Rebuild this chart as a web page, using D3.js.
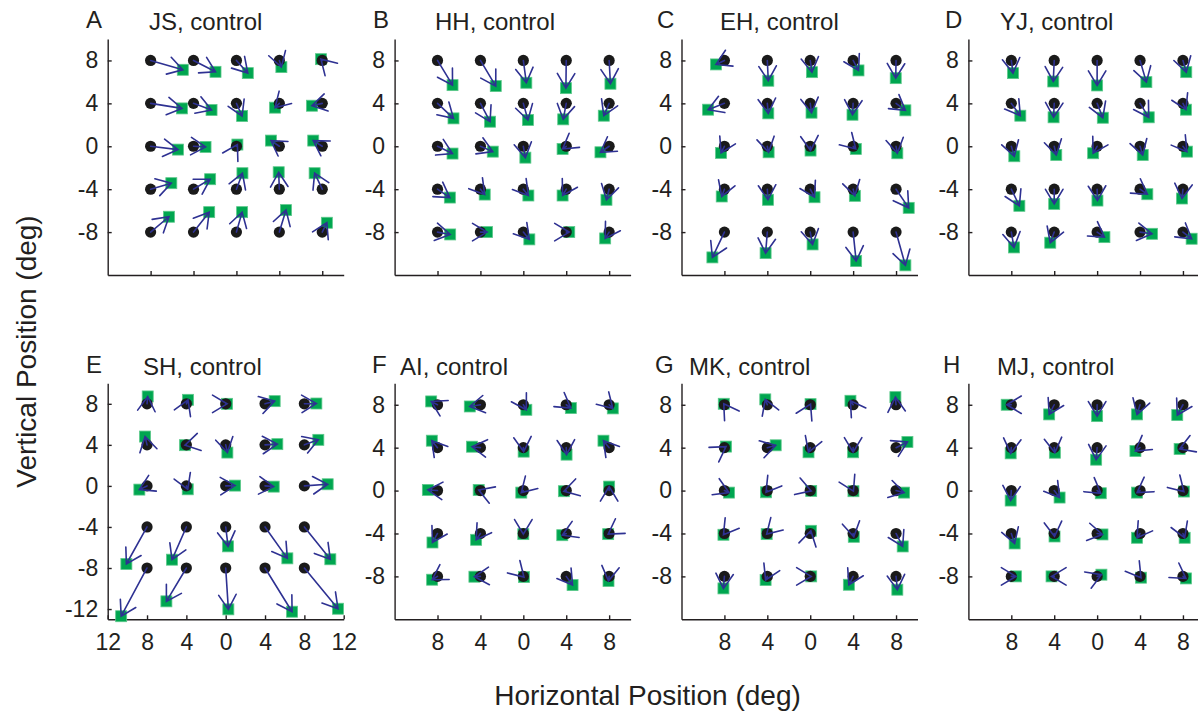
<!DOCTYPE html>
<html><head><meta charset="utf-8">
<script src="https://cdn.jsdelivr.net/npm/d3@7"></script>
<style>
html,body{margin:0;padding:0;background:#fff;}
text{font-family:"Liberation Sans",Arial,sans-serif;fill:#231f20;}
</style></head>
<body>
<svg id="chart" width="1198" height="717"></svg>
<script>
// ---- data ----
const panelLetters = ["A","B","C","D","E","F","G","H"];
const subjects = ["JS, control","HH, control","EH, control","YJ, control","SH, control","AI, control","MK, control","MJ, control"];
const gridX = [-8,-4,0,4,8];
const gridY = [8,4,0,-4,-8];
const ticksStd = [-8,-4,0,4,8];
const ticksWideX = [-12,-8,-4,0,4,8,12];
const ticksWideY = [-12,-8,-4,0,4,8];
// responses, row by row (y = 8,4,0,-4,-8), columns x = -8..8
const respA = [[-5.0,7.13],[-1.95,6.94],[1.06,6.82],[4.19,7.38],[7.88,8.12],
 [-5.08,3.53],[-2.32,3.38],[0.53,2.82],[3.6,3.6],[7.04,3.78],
 [-5.45,-0.31],[-2.88,-0.06],[0.09,0.16],[3.22,0.53],[7.16,0.53],
 [-6.07,-3.44],[-2.45,-3.07],[0.56,-2.51],[3.94,-2.42],[7.29,-2.51],
 [-6.29,-6.57],[-2.54,-6.14],[0.53,-6.14],[4.62,-5.95],[8.43,-7.13]];
const respB = [[-6.6,5.7],[-2.57,5.61],[0.28,5.92],[3.97,5.42],[8.12,5.83],
 [-6.51,2.6],[-3.1,2.29],[0.43,2.45],[3.72,2.51],[7.5,2.85],
 [-6.6,-0.68],[-2.85,-0.5],[0.19,-1.06],[3.66,-0.25],[7.19,-0.56],
 [-6.85,-4.78],[-3.6,-4.5],[0.47,-4.59],[3.66,-4.59],[7.75,-4.99],
 [-6.82,-8.22],[-3.38,-8.0],[0.56,-8.68],[4.28,-8.0],[7.63,-8.59]];
const respC = [[-8.78,7.63],[-3.91,6.11],[0.16,6.91],[4.5,7.07],[7.97,6.35],
 [-9.52,3.41],[-3.91,3.07],[0.12,3.13],[3.94,2.94],[8.87,3.35],
 [-8.31,-0.62],[-3.88,-0.56],[0.03,-0.4],[4.25,-0.25],[8.12,-0.65],
 [-8.25,-4.68],[-3.94,-4.99],[0.4,-4.75],[4.16,-4.62],[9.18,-5.74],
 [-9.12,-10.36],[-4.16,-9.96],[0.22,-9.15],[4.28,-10.7],[8.87,-11.1]];
const respD = [[-7.84,6.82],[-4.09,6.04],[0.0,5.67],[4.59,5.98],[8.31,6.91],
 [-7.16,2.85],[-4.06,2.7],[0.53,2.66],[4.81,2.7],[8.28,3.41],
 [-7.72,-0.93],[-3.81,-0.81],[-0.37,-0.65],[4.25,-0.81],[8.37,-0.5],
 [-7.25,-5.55],[-4.0,-5.37],[0.03,-5.06],[4.68,-4.47],[7.91,-4.87],
 [-7.75,-9.43],[-4.37,-8.99],[0.68,-8.47],[5.12,-8.16],[8.81,-8.62]];
const respE = [[-7.93,8.72],[-3.83,8.39],[0.14,8.0],[4.98,8.26],[9.22,8.03],
 [-8.2,4.81],[-4.14,3.97],[0.17,3.25],[5.25,4.07],[9.42,4.49],
 [-8.78,-0.36],[-3.86,-0.33],[0.95,0.03],[4.88,-0.07],[10.37,0.16],
 [-10.1,-7.61],[-5.46,-7.19],[0.24,-5.89],[6.27,-7.06],[10.64,-7.15],
 [-10.63,-12.7],[-6.03,-11.25],[0.27,-12.03],[6.75,-12.26],[11.42,-11.97]];
const respF = [[-8.59,8.31],[-4.99,7.84],[0.28,7.53],[4.43,7.69],[8.34,7.66],
 [-8.53,4.65],[-4.78,4.09],[0.03,3.63],[4.03,3.35],[7.47,4.65],
 [-8.9,0.06],[-4.16,0.06],[-0.19,-0.19],[3.78,-0.06],[8.0,0.37],
 [-8.47,-4.84],[-4.4,-4.59],[0.0,-4.06],[3.63,-4.16],[7.91,-4.06],
 [-8.5,-8.31],[-4.56,-8.03],[0.06,-8.06],[4.59,-8.81],[7.94,-8.43]];
const respG = [[-8.06,8.09],[-4.19,8.5],[0.03,8.06],[3.75,8.37],[7.94,8.71],
 [-7.85,4.1],[-3.22,4.22],[-0.16,3.57],[4.0,3.57],[9.06,4.53],
 [-7.57,-0.19],[-4.12,-0.16],[0.09,-0.03],[4.03,-0.06],[8.75,-0.19],
 [-8.09,-4.12],[-4.06,-4.06],[0.06,-3.75],[4.06,-4.31],[8.62,-5.21],
 [-8.09,-9.12],[-4.16,-8.34],[0.09,-8.0],[3.6,-8.78],[8.12,-9.24]];
const respH = [[-8.43,8.0],[-4.47,7.1],[0.0,6.94],[3.72,7.1],[7.47,7.04],
 [-8.06,3.47],[-3.94,3.53],[-0.09,2.88],[3.57,3.69],[7.69,3.88],
 [-8.06,-0.93],[-3.5,-0.65],[0.34,-0.25],[3.72,-0.19],[8.09,-0.09],
 [-7.69,-4.93],[-3.97,-4.28],[0.5,-4.09],[3.72,-4.4],[8.16,-4.4],
 [-7.57,-8.0],[-4.25,-8.0],[0.4,-7.84],[4.09,-8.12],[8.28,-8.19]];
const responses = [respA,respB,respC,respD,respE,respF,respG,respH];

// ---- layout ----
const svg = d3.select("#chart");
const W = 236, H = 236;
const lefts = [107.7, 394.6, 681.5, 968.4];
const tops = [39, 383.3];
const titleX = [149, 435, 720, 1000, 143, 400, 689, 997];
const letterX = [86, 373, 657, 945, 86, 372, 655, 943];
const DOT = "#1a1a1a", SQ = "#00a650", ARR = "#2e3192", AX = "#231f20";

panelLetters.forEach((L, i) => {
  const row = i < 4 ? 0 : 1, col = i % 4;
  const wide = (i === 4);
  const x = d3.scaleLinear().domain(wide ? [-12, 12] : [-12, 10]).range([0, W]);
  const y = d3.scaleLinear().domain(wide ? [-13, 10] : [-12, 10]).range([H, 0]);
  const g = svg.append("g").attr("transform", `translate(${lefts[col]},${tops[row]})`);

  // axes
  const ya = d3.axisLeft(y).tickValues(wide ? ticksWideY : ticksStd)
    .tickSizeInner(-4).tickSizeOuter(0).tickPadding(9.5).tickFormat(d => String(d));
  const xa = d3.axisBottom(x).tickValues(wide ? ticksWideX : ticksStd)
    .tickSizeInner(-4).tickSizeOuter(0).tickPadding(14.5)
    .tickFormat(row === 1 ? (d => String(Math.abs(d))) : (() => ""));
  const gy = g.append("g").call(ya);
  const gx = g.append("g").attr("transform", `translate(0,${H})`).call(xa);
  [gx, gy].forEach(a => {
    a.selectAll("path,line").attr("stroke", AX).attr("stroke-width", 1.4);
    a.selectAll("text").attr("font-size", 23).attr("fill", AX)
      .style("font-family", '"Liberation Sans",Arial,sans-serif');
  });

  // targets
  const targets = [];
  gridY.forEach(ty => gridX.forEach(tx => targets.push([tx, ty])));
  const resp = responses[i];
  const s = 11;
  g.append("g").selectAll("rect").data(resp).join("rect")
    .attr("x", d => x(d[0]) - s / 2).attr("y", d => y(d[1]) - s / 2)
    .attr("width", s).attr("height", s).attr("fill", SQ)
    .attr("stroke", "#5cc98a").attr("stroke-width", 0.8);
  g.append("g").selectAll("circle").data(targets).join("circle")
    .attr("cx", d => x(d[0])).attr("cy", d => y(d[1])).attr("r", 5.6).attr("fill", DOT);

  // arrows
  const ag = g.append("g").attr("stroke", ARR).attr("stroke-width", 1.6)
    .attr("fill", "none").attr("stroke-linecap", "round");
  const HL = 17, HA = 31 * Math.PI / 180;
  targets.forEach((t, k) => {
    const x0 = x(t[0]), y0 = y(t[1]), x1 = x(resp[k][0]), y1 = y(resp[k][1]);
    const ang = Math.atan2(y1 - y0, x1 - x0);
    const p = d3.path();
    p.moveTo(x0, y0); p.lineTo(x1, y1);
    p.moveTo(x1 - HL * Math.cos(ang - HA), y1 - HL * Math.sin(ang - HA));
    p.lineTo(x1, y1);
    p.lineTo(x1 - HL * Math.cos(ang + HA), y1 - HL * Math.sin(ang + HA));
    ag.append("path").attr("d", p.toString());
  });

  // labels
  const base = row === 0 ? 28 : 372.5;
  svg.append("text").attr("x", letterX[i]).attr("y", base).attr("font-size", 24).text(L);
  svg.append("text").attr("x", titleX[i]).attr("y", base + 2).attr("font-size", 24).text(subjects[i]);
});

svg.append("text").attr("x", 647.5).attr("y", 705).attr("text-anchor", "middle")
  .attr("font-size", 28).text("Horizontal Position (deg)");
svg.append("text").attr("transform", "translate(36,351.5) rotate(-90)").attr("text-anchor", "middle")
  .attr("font-size", 28).text("Vertical Position (deg)");
</script>
</body></html>
